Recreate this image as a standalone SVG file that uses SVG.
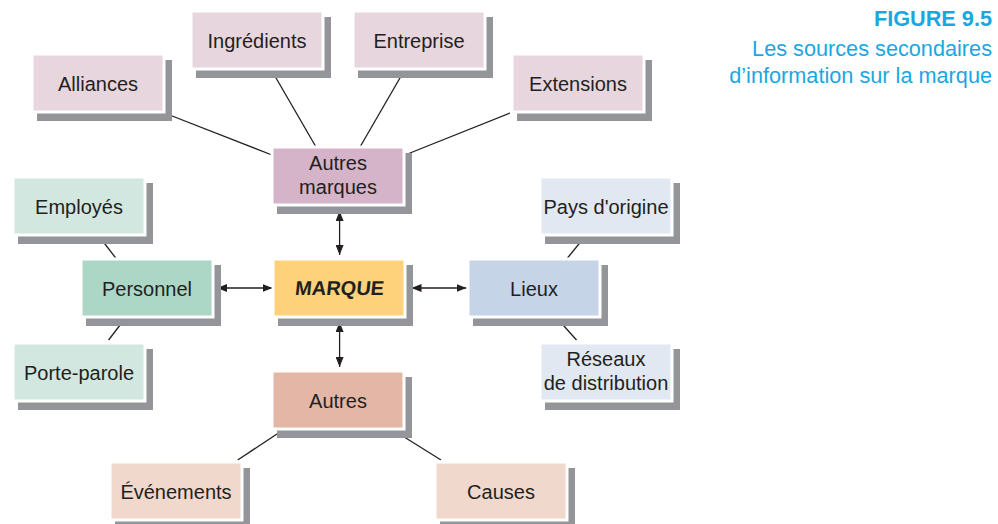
<svg xmlns="http://www.w3.org/2000/svg" width="998" height="524" viewBox="0 0 998 524">
<style>
.sh{fill:#939598}
.bx{stroke:#ffffff;stroke-width:3}
.t{font-family:"Liberation Sans",Arial,sans-serif;font-size:20px;fill:#231f20;text-anchor:middle}
.ln{stroke:#231f20;stroke-width:1.3;fill:none}
.ttl{font-family:"Liberation Sans",Arial,sans-serif;font-size:21.7px;fill:#1aa7e1;text-anchor:end}
.pk1{fill:#e8d6df}.pk2{fill:#d5b3c8}
.gr1{fill:#d2e7df}.gr2{fill:#acd6c6}
.bl1{fill:#e1e8f2}.bl2{fill:#c6d4e7}
.or1{fill:#f1d8cd}.or2{fill:#e4b6a6}
.yl{fill:#fdd27a}
</style>
<defs>
<marker id="ah" viewBox="0 0 10 8" refX="10" refY="4" markerWidth="10" markerHeight="8" markerUnits="userSpaceOnUse" orient="auto-start-reverse">
<path d="M0,0 L10,4 L0,8 z" fill="#231f20"/>
</marker>
</defs>
<rect width="998" height="524" fill="#ffffff"/>

<g id="title">
<text class="ttl" x="992" y="26" font-weight="bold">FIGURE 9.5</text>
<text class="ttl" x="992" y="55.5">Les sources secondaires</text>
<text class="ttl" x="992" y="82.5">d’information sur la marque</text>
</g>

<g id="connectors">
<line class="ln" x1="167" y1="114" x2="272" y2="155"/>
<line class="ln" x1="272" y1="71" x2="316" y2="147"/>
<line class="ln" x1="404" y1="71" x2="360" y2="147"/>
<line class="ln" x1="510" y1="113" x2="405" y2="155"/>
<line class="ln" x1="99.6" y1="237" x2="115.7" y2="258"/>
<line class="ln" x1="124.7" y1="319" x2="108.6" y2="340"/>
<line class="ln" x1="584.6" y1="237" x2="567.5" y2="258"/>
<line class="ln" x1="557.7" y1="319" x2="576.5" y2="340"/>
<line class="ln" x1="283" y1="430" x2="237.7" y2="460"/>
<line class="ln" x1="393" y1="430" x2="441" y2="460"/>
<line class="ln" x1="339.6" y1="211" x2="339.6" y2="255" marker-start="url(#ah)" marker-end="url(#ah)"/>
<line class="ln" x1="339.6" y1="322" x2="339.6" y2="367" marker-start="url(#ah)" marker-end="url(#ah)"/>
<line class="ln" x1="217" y1="288" x2="272.5" y2="288" marker-start="url(#ah)" marker-end="url(#ah)"/>
<line class="ln" x1="411.5" y1="288" x2="466.5" y2="288" marker-start="url(#ah)" marker-end="url(#ah)"/>
</g>

<g id="alliances">
<rect class="sh" x="37" y="60" width="135" height="61"/>
<rect class="bx pk1" x="32" y="54" width="132" height="58"/>
<text class="t" x="98" y="90.5">Alliances</text>
</g>
<g id="ingredients">
<rect class="sh" x="196" y="17" width="135" height="61"/>
<rect class="bx pk1" x="191" y="11" width="132" height="58"/>
<text class="t" x="257" y="47.5">Ingrédients</text>
</g>
<g id="entreprise">
<rect class="sh" x="358" y="17" width="135" height="61"/>
<rect class="bx pk1" x="353" y="11" width="132" height="58"/>
<text class="t" x="419" y="47.5">Entreprise</text>
</g>
<g id="extensions">
<rect class="sh" x="517" y="60" width="135" height="61"/>
<rect class="bx pk1" x="512" y="54" width="132" height="58"/>
<text class="t" x="578" y="90.5">Extensions</text>
</g>
<g id="autres-marques">
<rect class="sh" x="277" y="153" width="135" height="61"/>
<rect class="bx pk2" x="272" y="147" width="132" height="58"/>
<text class="t" x="338" y="170">Autres</text>
<text class="t" x="338" y="194">marques</text>
</g>
<g id="employes">
<rect class="sh" x="18" y="183" width="135" height="61"/>
<rect class="bx gr1" x="13" y="177" width="132" height="58"/>
<text class="t" x="79" y="213.5">Employés</text>
</g>
<g id="personnel">
<rect class="sh" x="86" y="265" width="135" height="61"/>
<rect class="bx gr2" x="81" y="259" width="132" height="58"/>
<text class="t" x="147" y="295.5">Personnel</text>
</g>
<g id="porte-parole">
<rect class="sh" x="18" y="349" width="135" height="61"/>
<rect class="bx gr1" x="13" y="343" width="132" height="58"/>
<text class="t" x="79" y="379.5">Porte-parole</text>
</g>
<g id="marque">
<rect class="sh" x="278" y="265" width="135" height="61"/>
<rect class="bx yl" x="273" y="259" width="132" height="58"/>
<text class="t" x="339" y="295.5" font-weight="bold" transform="translate(339 295.5) skewX(-6) translate(-339 -295.5)">MARQUE</text>
</g>
<g id="lieux">
<rect class="sh" x="473" y="265" width="135" height="61"/>
<rect class="bx bl2" x="468" y="259" width="132" height="58"/>
<text class="t" x="534" y="295.5">Lieux</text>
</g>
<g id="pays">
<rect class="sh" x="545" y="183" width="135" height="61"/>
<rect class="bx bl1" x="540" y="177" width="132" height="58"/>
<text class="t" x="606" y="213.5">Pays d'origine</text>
</g>
<g id="reseaux">
<rect class="sh" x="545" y="349" width="135" height="61"/>
<rect class="bx bl1" x="540" y="343" width="132" height="58"/>
<text class="t" x="606" y="366">Réseaux</text>
<text class="t" x="606" y="390">de distribution</text>
</g>
<g id="autres">
<rect class="sh" x="277" y="377" width="135" height="61"/>
<rect class="bx or2" x="272" y="371" width="132" height="58"/>
<text class="t" x="338" y="407.5">Autres</text>
</g>
<g id="evenements">
<rect class="sh" x="115" y="468" width="135" height="61"/>
<rect class="bx or1" x="110" y="462" width="132" height="58"/>
<text class="t" x="176" y="498.5">Événements</text>
</g>
<g id="causes">
<rect class="sh" x="440" y="468" width="135" height="61"/>
<rect class="bx or1" x="435" y="462" width="132" height="58"/>
<text class="t" x="501" y="498.5">Causes</text>
</g>
</svg>
